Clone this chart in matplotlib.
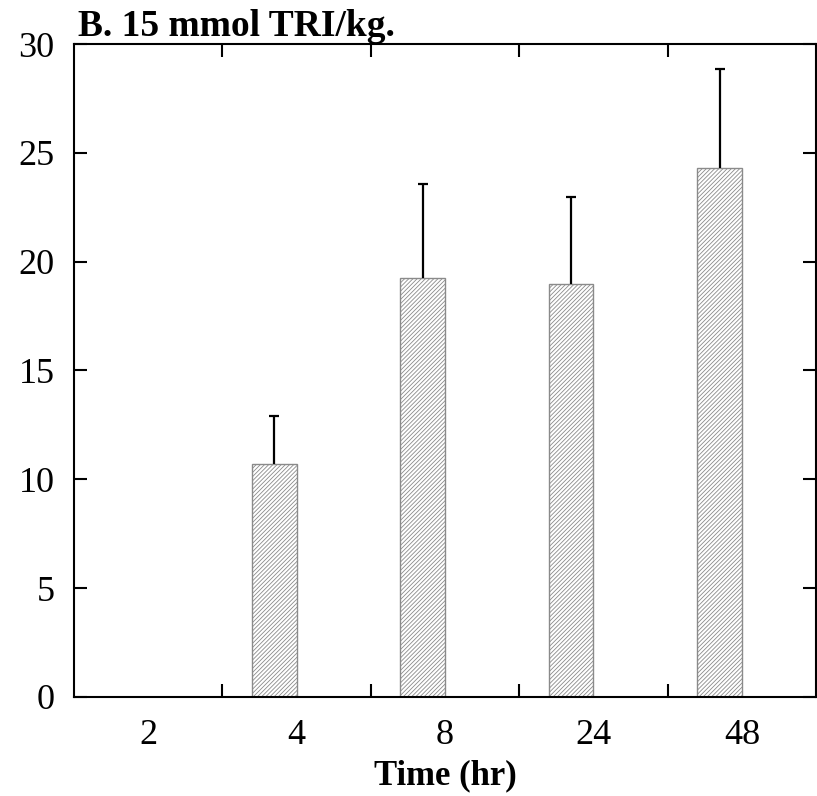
import matplotlib
matplotlib.use("Agg")
import matplotlib.pyplot as plt
import numpy as np

# Data
times = ["2", "4", "8", "24", "48"]
means = [np.nan, 10.7, 19.25, 18.97, 24.3]
upper = [np.nan, 12.9, 23.55, 22.97, 28.85]
yticks = [0, 5, 10, 15, 20, 25, 30]

plt.rcParams["font.family"] = ["Liberation Serif", "DejaVu Serif"]
plt.rcParams["hatch.color"] = "#8a8a8a"
plt.rcParams["hatch.linewidth"] = 0.6

fig = plt.figure(figsize=(8.17, 7.96), dpi=100)
ax = fig.add_axes([0.0906, 0.1244, 0.9082, 0.8203])

x = np.arange(len(times))
width = 0.30
m = np.array(means, dtype=float)
u = np.array(upper, dtype=float)
ok = ~np.isnan(m)
xb = x[ok] - width / 2

ax.bar(xb, m[ok], width=width, color="white", edgecolor="#8a8a8a",
       linewidth=1.0, hatch="////////", zorder=2)
# upper-only error bars: stem from bar top, cap at the upper value
ax.vlines(xb, m[ok], u[ok], color="black", linewidth=1.6, zorder=3)
ax.plot(xb, u[ok], linestyle="none", marker="_", markersize=7.5,
        markeredgewidth=1.6, color="black", zorder=3)

ax.set_xlim(-0.5, len(times) - 0.5)
ax.set_ylim(0, 30)
ax.set_yticks(yticks)
ax.set_xticks(x)
ax.set_xticklabels(times)
ax.set_xticks(np.arange(0.5, len(times) - 0.5, 1.0), minor=True)

ax.tick_params(axis="x", which="major", length=0, labelsize=26, pad=16)
ax.tick_params(axis="x", which="minor", direction="in", length=9.5,
               width=1.5, top=True, bottom=True)
ax.tick_params(axis="y", which="major", direction="in", length=9.5,
               width=1.5, left=True, right=True, labelsize=26, pad=14)

for s in ax.spines.values():
    s.set_linewidth(1.5)

ax.set_xlabel("Time (hr)", fontsize=25, fontweight="bold", labelpad=5)
ax.text(0.005, 1.012, "B. 15 mmol TRI/kg.", transform=ax.transAxes,
        fontsize=27, fontweight="bold", ha="left", va="baseline")

fig.savefig("out.png", dpi=100)
